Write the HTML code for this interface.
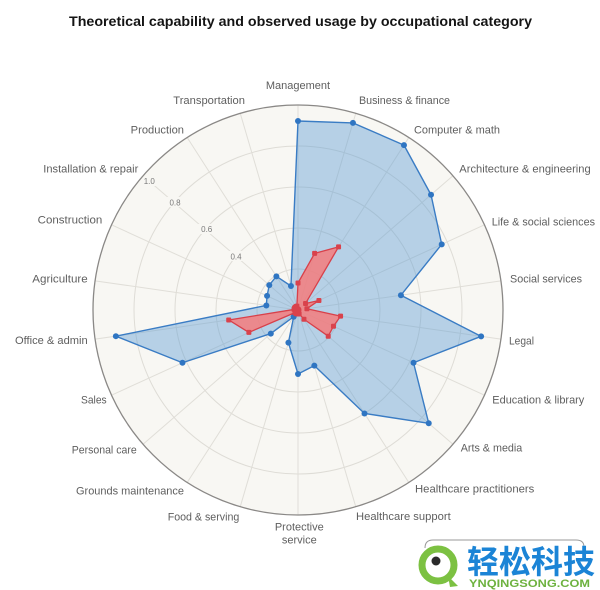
<!DOCTYPE html>
<html>
<head>
<meta charset="utf-8">
<style>
  html,body{margin:0;padding:0;background:#ffffff;}
  svg{display:block;}
  text{font-family:"Liberation Sans","Noto Sans CJK SC",sans-serif;}
</style>
</head>
<body>
<svg width="600" height="590" viewBox="0 0 600 590" xmlns="http://www.w3.org/2000/svg">
  <rect x="0" y="0" width="600" height="590" fill="#ffffff"/>

  <!-- Title -->
  <text x="69" y="26" font-size="14" font-weight="bold" fill="#141414" textLength="463" lengthAdjust="spacingAndGlyphs">Theoretical capability and observed usage by occupational category</text>

  <!-- Plot background -->
  <circle cx="298" cy="310" r="205" fill="#f8f7f3"/>

  <!-- Grid circles -->
  <g fill="none" stroke="#dedcd6" stroke-width="1">
    <circle cx="298" cy="310" r="41"/>
    <circle cx="298" cy="310" r="82"/>
    <circle cx="298" cy="310" r="123"/>
    <circle cx="298" cy="310" r="164"/>
  </g>

  <!-- Spokes -->
  <g stroke="#e0ded8" stroke-width="1">
    <line x1="298" y1="105" x2="298" y2="515"/>
    <line x1="355.75" y1="113.30" x2="240.25" y2="506.70"/>
    <line x1="408.83" y1="137.54" x2="187.17" y2="482.46"/>
    <line x1="452.93" y1="175.75" x2="143.07" y2="444.25"/>
    <line x1="484.47" y1="224.84" x2="111.53" y2="395.16"/>
    <line x1="500.91" y1="280.83" x2="95.09" y2="339.17"/>
    <line x1="500.91" y1="339.17" x2="95.09" y2="280.83"/>
    <line x1="484.47" y1="395.16" x2="111.53" y2="224.84"/>
    <line x1="452.93" y1="444.25" x2="143.07" y2="175.75"/>
    <line x1="408.83" y1="482.46" x2="187.17" y2="137.54"/>
    <line x1="355.75" y1="506.70" x2="240.25" y2="113.30"/>
  </g>

  <!-- Tick labels -->
  <g font-size="8" fill="#7a7a7a" text-anchor="middle">
    <rect x="141" y="176" width="17" height="10" fill="#f8f7f3"/>
    <text x="149.3" y="184">1.0</text>
    <rect x="167" y="197" width="17" height="10" fill="#f8f7f3"/>
    <text x="175" y="205.3">0.8</text>
    <rect x="198" y="224" width="17" height="10" fill="#f8f7f3"/>
    <text x="206.7" y="232">0.6</text>
    <rect x="228" y="251" width="17" height="10" fill="#f8f7f3"/>
    <text x="236" y="259.3">0.4</text>
  </g>

  <!-- Outer border -->
  <circle cx="298" cy="310" r="205" fill="none" stroke="#8a8886" stroke-width="1.3"/>

  <!-- Theoretical capability (blue) -->
  <polygon points="298,121 352.94,122.90 403.97,145.11 431.01,194.74 441.72,244.36 400.94,295.20 481.12,336.33 413.52,362.76 428.74,423.29 364.50,413.47 314.34,365.65 298,374 288.42,342.62 293.67,316.73 270.79,333.57 182.48,362.76 115.87,336.19 266.33,305.45 267.07,295.88 269.28,285.12 276.37,276.35 290.96,286.01"
    fill="#5b9bd5" fill-opacity="0.42" stroke="#3a7cc4" stroke-width="1.4" stroke-linejoin="round"/>
  <g fill="#2f75c2">
    <circle cx="298" cy="121" r="3"/>
    <circle cx="352.94" cy="122.90" r="3"/>
    <circle cx="403.97" cy="145.11" r="3"/>
    <circle cx="431.01" cy="194.74" r="3"/>
    <circle cx="441.72" cy="244.36" r="3"/>
    <circle cx="400.94" cy="295.20" r="3"/>
    <circle cx="481.12" cy="336.33" r="3"/>
    <circle cx="413.52" cy="362.76" r="3"/>
    <circle cx="428.74" cy="423.29" r="3"/>
    <circle cx="364.50" cy="413.47" r="3"/>
    <circle cx="314.34" cy="365.65" r="3"/>
    <circle cx="298" cy="374" r="3"/>
    <circle cx="288.42" cy="342.62" r="3"/>
    <circle cx="293.67" cy="316.73" r="3"/>
    <circle cx="270.79" cy="333.57" r="3"/>
    <circle cx="182.48" cy="362.76" r="3"/>
    <circle cx="115.87" cy="336.19" r="3"/>
    <circle cx="266.33" cy="305.45" r="3"/>
    <circle cx="267.07" cy="295.88" r="3"/>
    <circle cx="269.28" cy="285.12" r="3"/>
    <circle cx="276.37" cy="276.35" r="3"/>
    <circle cx="290.96" cy="286.01" r="3"/>
  </g>

  <!-- Observed usage (red) -->
  <polygon points="298,283 314.62,253.39 338.55,246.91 305.56,303.45 318.92,300.45 306.91,308.72 340.56,316.12 333.48,326.20 328.23,336.19 303.95,319.25 299.13,313.84 298,314 296.87,313.84 295.84,313.37 294.98,312.62 248.88,332.43 228.71,319.96 294.04,309.43 294.36,308.34 294.98,307.38 295.84,306.63 296.87,306.16"
    fill="#f47c7c" fill-opacity="0.85" stroke="#d8404a" stroke-width="1.3" stroke-linejoin="round"/>
  <g fill="#d9424c">
    <rect x="295.5" y="280.5" width="5" height="5" rx="1"/>
    <rect x="312.12" y="250.89" width="5" height="5" rx="1"/>
    <rect x="336.05" y="244.41" width="5" height="5" rx="1"/>
    <rect x="303.06" y="300.95" width="5" height="5" rx="1"/>
    <rect x="316.42" y="297.95" width="5" height="5" rx="1"/>
    <rect x="304.41" y="306.22" width="5" height="5" rx="1"/>
    <rect x="338.06" y="313.62" width="5" height="5" rx="1"/>
    <rect x="330.98" y="323.70" width="5" height="5" rx="1"/>
    <rect x="325.73" y="333.69" width="5" height="5" rx="1"/>
    <rect x="301.45" y="316.75" width="5" height="5" rx="1"/>
    <rect x="296.63" y="311.34" width="5" height="5" rx="1"/>
    <rect x="295.5" y="311.5" width="5" height="5" rx="1"/>
    <rect x="294.37" y="311.34" width="5" height="5" rx="1"/>
    <rect x="293.34" y="310.87" width="5" height="5" rx="1"/>
    <rect x="292.48" y="310.12" width="5" height="5" rx="1"/>
    <rect x="246.38" y="329.93" width="5" height="5" rx="1"/>
    <rect x="226.21" y="317.46" width="5" height="5" rx="1"/>
    <rect x="291.54" y="306.93" width="5" height="5" rx="1"/>
    <rect x="291.86" y="305.84" width="5" height="5" rx="1"/>
    <rect x="292.48" y="304.88" width="5" height="5" rx="1"/>
    <rect x="293.34" y="304.13" width="5" height="5" rx="1"/>
    <rect x="294.37" y="303.66" width="5" height="5" rx="1"/>
    <circle cx="297.5" cy="310" r="4"/>
  </g>

  <!-- Category labels -->
  <g font-size="11" fill="#5e5e5e" lengthAdjust="spacingAndGlyphs">
    <text x="298" y="89" text-anchor="middle">Management</text>
    <text x="359" y="104" textLength="91" lengthAdjust="spacingAndGlyphs">Business &amp; finance</text>
    <text x="414" y="133.3" textLength="86" lengthAdjust="spacingAndGlyphs">Computer &amp; math</text>
    <text x="459.3" y="172.3" textLength="131.4" lengthAdjust="spacingAndGlyphs">Architecture &amp; engineering</text>
    <text x="491.7" y="225.7" textLength="103.3" lengthAdjust="spacingAndGlyphs">Life &amp; social sciences</text>
    <text x="510" y="282.3" textLength="72" lengthAdjust="spacingAndGlyphs">Social services</text>
    <text x="509" y="344.7" textLength="25" lengthAdjust="spacingAndGlyphs">Legal</text>
    <text x="492.3" y="403.3" textLength="92" lengthAdjust="spacingAndGlyphs">Education &amp; library</text>
    <text x="460.7" y="451.3" textLength="61.6" lengthAdjust="spacingAndGlyphs">Arts &amp; media</text>
    <text x="415" y="492.7" textLength="119.3" lengthAdjust="spacingAndGlyphs">Healthcare practitioners</text>
    <text x="356" y="520" textLength="94.7" lengthAdjust="spacingAndGlyphs">Healthcare support</text>
    <text x="299.3" y="530.7" text-anchor="middle">Protective</text>
    <text x="299.3" y="543.3" text-anchor="middle">service</text>
    <text x="167.7" y="520.7" textLength="71.6" lengthAdjust="spacingAndGlyphs">Food &amp; serving</text>
    <text x="76" y="494.3" textLength="108" lengthAdjust="spacingAndGlyphs">Grounds maintenance</text>
    <text x="71.7" y="453.3" textLength="65" lengthAdjust="spacingAndGlyphs">Personal care</text>
    <text x="81" y="403.3" textLength="25.7" lengthAdjust="spacingAndGlyphs">Sales</text>
    <text x="15" y="344" textLength="72.7" lengthAdjust="spacingAndGlyphs">Office &amp; admin</text>
    <text x="32.3" y="282.3" textLength="55.4" lengthAdjust="spacingAndGlyphs">Agriculture</text>
    <text x="37.7" y="223.7" textLength="64.6" lengthAdjust="spacingAndGlyphs">Construction</text>
    <text x="43.3" y="172.3" textLength="95" lengthAdjust="spacingAndGlyphs">Installation &amp; repair</text>
    <text x="130.7" y="133.3" textLength="53.3" lengthAdjust="spacingAndGlyphs">Production</text>
    <text x="173.3" y="104" textLength="71.7" lengthAdjust="spacingAndGlyphs">Transportation</text>
  </g>

  <!-- Watermark -->
  <path d="M425,548 Q425,540 433,540 L576,540 Q584,540 584,547" fill="none" stroke="#9a9a9a" stroke-width="1"/>
  <circle cx="438" cy="565" r="16" fill="#ffffff" stroke="#7cc142" stroke-width="7"/>
  <path d="M448,576 L458,586 L450,587 Z" fill="#7cc142"/>
  <circle cx="436" cy="561" r="4.5" fill="#2b2b2b"/>
  <text x="467" y="573" font-family="'Noto Sans CJK SC','WenQuanYi Zen Hei',sans-serif" font-size="32" font-weight="bold" fill="#1b84d6" textLength="128" lengthAdjust="spacingAndGlyphs">轻松科技</text>
  <text x="469" y="587" font-size="11" font-weight="bold" fill="#6db23f" textLength="121" lengthAdjust="spacingAndGlyphs">YNQINGSONG.COM</text>
</svg>
</body>
</html>
